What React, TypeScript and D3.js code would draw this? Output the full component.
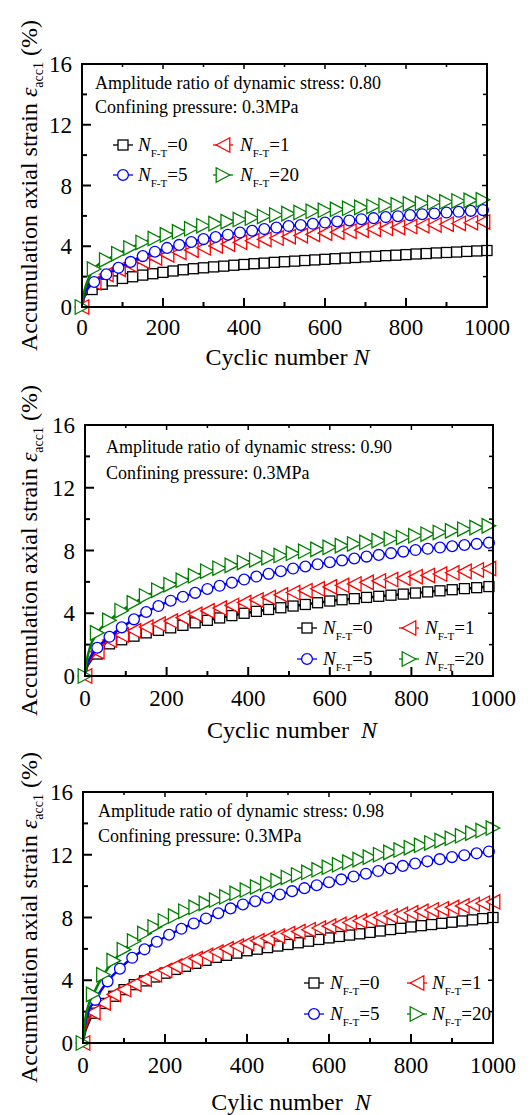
import React from 'react';
import * as d3 from 'd3';

const FONT = '"Liberation Serif", "Times New Roman", Times, serif';

// Cycle numbers at which the strain was sampled
const cyclesEvery25 = [25, 50, 75, 100, 125, 150, 175, 200, 225, 250, 275, 300, 325, 350, 375, 400, 425, 450, 475, 500, 525, 550, 575, 600, 625, 650, 675, 700, 725, 750, 775, 800, 825, 850, 875, 900, 925, 950, 975, 1000];
const cyclesEvery30 = [30, 60, 90, 120, 150, 180, 210, 240, 270, 300, 330, 360, 390, 420, 450, 480, 510, 540, 570, 600, 630, 660, 690, 720, 750, 780, 810, 840, 870, 900, 930, 960, 990];
// first few cycles (line only)
const leadCycles = [0, 4, 12];

const xTickMajor = [0, 200, 400, 600, 800, 1000];
const xTickMinor = [100, 300, 500, 700, 900];
const yTickMajor = [0, 4, 8, 12, 16];
const yTickMinor = [2, 6, 10, 14];

const freezeThawCounts = ['0', '1', '5', '20'];
const seriesColors = ['#000000', '#ff0000', '#0000ff', '#008000'];
const seriesShapes = ['square', 'left', 'circle', 'right'];
// series whose symbol also sits at the origin
const originSymbol = [false, true, false, true];

// Amplitude ratio 0.80
const a80Ft0Lead = [0, 0.55, 0.9];
const a80Ft0 = [1.15, 1.50, 1.72, 1.88, 1.99, 2.10, 2.19, 2.28, 2.37, 2.45, 2.52, 2.58, 2.64, 2.69, 2.75, 2.80, 2.85, 2.89, 2.94, 2.98, 3.02, 3.06, 3.10, 3.14, 3.18, 3.22, 3.26, 3.30, 3.34, 3.38, 3.41, 3.45, 3.49, 3.52, 3.56, 3.59, 3.62, 3.66, 3.69, 3.72];
const a80Ft1Lead = [0, 0.6, 1.1];
const a80Ft1 = [1.60, 2.15, 2.49, 2.76, 3.00, 3.23, 3.43, 3.59, 3.74, 3.90, 4.02, 4.14, 4.26, 4.36, 4.45, 4.54, 4.63, 4.70, 4.78, 4.86, 4.93, 4.99, 5.06, 5.12, 5.18, 5.24, 5.30, 5.35, 5.40, 5.45, 5.50, 5.55, 5.60];
const a80Ft5Lead = [0, 0.65, 1.15];
const a80Ft5 = [1.65, 2.15, 2.58, 2.97, 3.35, 3.64, 3.89, 4.09, 4.28, 4.47, 4.61, 4.76, 4.90, 5.02, 5.13, 5.23, 5.33, 5.40, 5.48, 5.56, 5.63, 5.70, 5.78, 5.85, 5.92, 5.98, 6.05, 6.11, 6.16, 6.22, 6.27, 6.33, 6.38];
const a80Ft20Lead = [0, 0.8, 1.6];
const a80Ft20 = [2.50, 3.10, 3.51, 3.89, 4.25, 4.51, 4.75, 4.95, 5.15, 5.35, 5.49, 5.62, 5.76, 5.86, 5.96, 6.06, 6.15, 6.22, 6.30, 6.37, 6.43, 6.50, 6.56, 6.62, 6.68, 6.73, 6.79, 6.83, 6.88, 6.93, 6.98, 7.02, 7.06];

// Amplitude ratio 0.90
const a90Ft0Lead = [0, 0.5, 0.9];
const a90Ft0 = [1.40, 2.05, 2.31, 2.54, 2.75, 2.91, 3.07, 3.23, 3.39, 3.55, 3.70, 3.85, 4.00, 4.12, 4.24, 4.35, 4.46, 4.56, 4.67, 4.78, 4.86, 4.93, 5.01, 5.08, 5.15, 5.22, 5.29, 5.36, 5.43, 5.50, 5.57, 5.63, 5.70];
const a90Ft1Lead = [0, 0.55, 1.0];
const a90Ft1 = [1.55, 2.29, 2.61, 2.88, 3.12, 3.31, 3.50, 3.72, 3.93, 4.15, 4.33, 4.50, 4.68, 4.85, 5.01, 5.17, 5.32, 5.44, 5.56, 5.68, 5.78, 5.87, 5.97, 6.06, 6.15, 6.24, 6.33, 6.41, 6.50, 6.58, 6.67, 6.76, 6.85];
const a90Ft5Lead = [0, 0.6, 1.15];
const a90Ft5 = [1.80, 2.50, 3.10, 3.61, 4.08, 4.46, 4.80, 5.05, 5.30, 5.55, 5.75, 5.95, 6.15, 6.34, 6.51, 6.68, 6.85, 6.98, 7.12, 7.25, 7.37, 7.49, 7.61, 7.72, 7.83, 7.93, 8.03, 8.11, 8.19, 8.27, 8.35, 8.42, 8.50];
const a90Ft20Lead = [0, 0.9, 1.8];
const a90Ft20 = [2.75, 3.55, 4.16, 4.66, 5.10, 5.47, 5.82, 6.10, 6.39, 6.68, 6.87, 7.05, 7.24, 7.40, 7.54, 7.68, 7.82, 7.95, 8.07, 8.20, 8.31, 8.42, 8.52, 8.63, 8.73, 8.83, 8.94, 9.04, 9.15, 9.25, 9.36, 9.46, 9.57];

// Amplitude ratio 0.98
const a98Ft0Lead = [0, 0.6, 1.2];
const a98Ft0 = [1.90, 2.52, 2.98, 3.40, 3.72, 3.96, 4.21, 4.45, 4.69, 4.89, 5.08, 5.27, 5.46, 5.59, 5.73, 5.88, 5.98, 6.08, 6.18, 6.28, 6.39, 6.49, 6.60, 6.70, 6.79, 6.88, 6.96, 7.05, 7.14, 7.23, 7.31, 7.40, 7.48, 7.55, 7.63, 7.70, 7.78, 7.85, 7.93, 8.00];
const a98Ft1Lead = [0, 0.7, 1.4];
const a98Ft1 = [1.95, 2.55, 3.10, 3.41, 3.75, 4.07, 4.35, 4.62, 4.90, 5.18, 5.38, 5.59, 5.80, 6.00, 6.18, 6.35, 6.51, 6.67, 6.82, 6.98, 7.10, 7.22, 7.33, 7.45, 7.56, 7.68, 7.79, 7.90, 8.00, 8.10, 8.20, 8.30, 8.39, 8.48, 8.56, 8.65, 8.74, 8.83, 8.91, 9.00];
const a98Ft5Lead = [0, 1.0, 1.9];
const a98Ft5 = [2.75, 3.93, 4.74, 5.43, 5.97, 6.45, 6.90, 7.28, 7.62, 7.94, 8.27, 8.58, 8.83, 9.04, 9.26, 9.47, 9.68, 9.87, 10.06, 10.25, 10.43, 10.61, 10.79, 10.96, 11.13, 11.29, 11.44, 11.58, 11.72, 11.85, 11.97, 12.09, 12.21];
const a98Ft20Lead = [0, 1.2, 2.3];
const a98Ft20 = [3.10, 4.35, 5.25, 5.95, 6.50, 6.98, 7.40, 7.78, 8.09, 8.40, 8.65, 8.90, 9.11, 9.32, 9.54, 9.75, 9.95, 10.15, 10.35, 10.55, 10.71, 10.88, 11.04, 11.20, 11.36, 11.53, 11.69, 11.85, 12.00, 12.15, 12.30, 12.45, 12.60, 12.75, 12.90, 13.05, 13.21, 13.38, 13.54, 13.70];

type Series = { cycles: number[]; values: number[]; lead: number[] };

const panels = [
  {
    frame: { l: 82, r: 487, t: 64, b: 307 },
    ratio: '0.80',
    annot: { x: 95, y1: 89, y2: 113 },
    legend: { rows: [151, 181], cols: [123, 223], textGap: [15, 17] },
    xTitle: 'Cyclic number ',
    xTitleY: 365,
    xLabelGap: 28,
    yLabelGap: 10,
    series: [
      { cycles: cyclesEvery25, values: a80Ft0, lead: a80Ft0Lead },
      { cycles: cyclesEvery30, values: a80Ft1, lead: a80Ft1Lead },
      { cycles: cyclesEvery30, values: a80Ft5, lead: a80Ft5Lead },
      { cycles: cyclesEvery30, values: a80Ft20, lead: a80Ft20Lead },
    ] as Series[],
  },
  {
    frame: { l: 85, r: 493, t: 425, b: 676 },
    ratio: '0.90',
    annot: { x: 106, y1: 453, y2: 479 },
    legend: { rows: [634, 665], cols: [307, 409], textGap: [16, 16] },
    xTitle: 'Cyclic number\u00a0 ',
    xTitleY: 738,
    xLabelGap: 30,
    yLabelGap: 10,
    series: [
      { cycles: cyclesEvery30, values: a90Ft0, lead: a90Ft0Lead },
      { cycles: cyclesEvery30, values: a90Ft1, lead: a90Ft1Lead },
      { cycles: cyclesEvery30, values: a90Ft5, lead: a90Ft5Lead },
      { cycles: cyclesEvery30, values: a90Ft20, lead: a90Ft20Lead },
    ] as Series[],
  },
  {
    frame: { l: 83, r: 493, t: 792, b: 1043 },
    ratio: '0.98',
    annot: { x: 98, y1: 817, y2: 842 },
    legend: { rows: [989, 1020], cols: [314, 417], textGap: [16, 15] },
    xTitle: 'Cylic number\u00a0 ',
    xTitleY: 1110,
    xLabelGap: 30,
    yLabelGap: 10,
    series: [
      { cycles: cyclesEvery25, values: a98Ft0, lead: a98Ft0Lead },
      { cycles: cyclesEvery25, values: a98Ft1, lead: a98Ft1Lead },
      { cycles: cyclesEvery30, values: a98Ft5, lead: a98Ft5Lead },
      { cycles: cyclesEvery25, values: a98Ft20, lead: a98Ft20Lead },
    ] as Series[],
  },
];

function Marker({ shape, x, y, color }: { shape: string; x: number; y: number; color: string }) {
  const common = { fill: '#ffffff', stroke: color, strokeWidth: 1.3 };
  if (shape === 'square') return <rect x={x - 5} y={y - 5} width={10} height={10} {...common} />;
  if (shape === 'circle') return <circle cx={x} cy={y} r={5.4} {...common} />;
  if (shape === 'left')
    return <path d={`M${x - 6.8},${y}L${x + 6.8},${y - 7.2}L${x + 6.8},${y + 7.2}Z`} {...common} />;
  return <path d={`M${x + 6.8},${y}L${x - 6.8},${y - 7.2}L${x - 6.8},${y + 7.2}Z`} {...common} />;
}

function Panel({ p }: { p: (typeof panels)[number] }) {
  const { frame } = p;
  const x = d3.scaleLinear().domain([0, 1000]).range([frame.l, frame.r]);
  const y = d3.scaleLinear().domain([0, 16]).range([frame.b, frame.t]);
  const line = d3
    .line<[number, number]>()
    .x((d) => x(d[0]))
    .y((d) => y(d[1]))
    .curve(d3.curveMonotoneX);

  const cy = (frame.t + frame.b) / 2;
  const cx = (frame.l + frame.r) / 2;

  return (
    <g>
      {/* ticks */}
      {xTickMajor.map((t) => (
        <g key={'xM' + t}>
          <line x1={x(t)} x2={x(t)} y1={frame.b} y2={frame.b - 9} stroke="#000" strokeWidth={2} />
          <line x1={x(t)} x2={x(t)} y1={frame.t} y2={frame.t + 5} stroke="#000" strokeWidth={1.5} />
        </g>
      ))}
      {xTickMinor.map((t) => (
        <g key={'xm' + t}>
          <line x1={x(t)} x2={x(t)} y1={frame.b} y2={frame.b - 5} stroke="#000" strokeWidth={2} />
          <line x1={x(t)} x2={x(t)} y1={frame.t} y2={frame.t + 3} stroke="#000" strokeWidth={1.5} />
        </g>
      ))}
      {yTickMajor.map((t) => (
        <g key={'yM' + t}>
          <line x1={frame.l} x2={frame.l + 9} y1={y(t)} y2={y(t)} stroke="#000" strokeWidth={2} />
          <line x1={frame.r} x2={frame.r - 5} y1={y(t)} y2={y(t)} stroke="#000" strokeWidth={1.5} />
        </g>
      ))}
      {yTickMinor.map((t) => (
        <g key={'ym' + t}>
          <line x1={frame.l} x2={frame.l + 5} y1={y(t)} y2={y(t)} stroke="#000" strokeWidth={2} />
          <line x1={frame.r} x2={frame.r - 4} y1={y(t)} y2={y(t)} stroke="#000" strokeWidth={1.5} />
        </g>
      ))}

      {/* data */}
      {p.series.map((s, i) => {
        const pts: [number, number][] = [
          ...leadCycles.map((n, k) => [n, s.lead[k]] as [number, number]),
          ...s.cycles.map((n, k) => [n, s.values[k]] as [number, number]),
        ];
        return (
          <g key={'s' + i}>
            <path d={line(pts) || ''} fill="none" stroke={seriesColors[i]} strokeWidth={2.5} />
            {originSymbol[i] && (
              <Marker shape={seriesShapes[i]} x={x(leadCycles[0])} y={y(s.lead[0])} color={seriesColors[i]} />
            )}
            {s.cycles.map((n, k) => (
              <Marker key={k} shape={seriesShapes[i]} x={x(n)} y={y(s.values[k])} color={seriesColors[i]} />
            ))}
          </g>
        );
      })}

      {/* frame */}
      <rect
        x={frame.l}
        y={frame.t}
        width={frame.r - frame.l}
        height={frame.b - frame.t}
        fill="none"
        stroke="#000"
        strokeWidth={2}
      />

      {/* tick labels */}
      {xTickMajor.map((t) => (
        <text key={'xl' + t} x={x(t)} y={frame.b + p.xLabelGap} textAnchor="middle" fontFamily={FONT} fontSize={23}>
          {t}
        </text>
      ))}
      {yTickMajor.map((t) => (
        <text
          key={'yl' + t}
          x={frame.l - p.yLabelGap}
          y={y(t) + 8}
          textAnchor="end"
          fontFamily={FONT}
          fontSize={23}
        >
          {t}
        </text>
      ))}

      {/* axis titles */}
      <text x={cx + 3} y={p.xTitleY} textAnchor="middle" fontFamily={FONT} fontSize={24}>
        {p.xTitle}
        <tspan fontStyle="italic">N</tspan>
      </text>
      <text
        transform={`translate(37,${cy}) rotate(-90)`}
        textAnchor="middle"
        fontFamily={FONT}
        fontSize={24}
      >
        Accumulation axial strain <tspan fontStyle="italic">ε</tspan>
        <tspan fontSize={14} dy={6}>acc1</tspan>
        <tspan dy={-6}>{'\u00a0(%)'}</tspan>
      </text>

      {/* test conditions */}
      <text x={p.annot.x} y={p.annot.y1} fontFamily={FONT} fontSize={18}>
        {`Amplitude ratio of dynamic stress: ${p.ratio}`}
      </text>
      <text x={p.annot.x} y={p.annot.y2} fontFamily={FONT} fontSize={18}>
        Confining pressure: 0.3MPa
      </text>

      {/* legend */}
      {freezeThawCounts.map((name, i) => {
        const col = i % 2;
        const row = Math.floor(i / 2);
        const mx = p.legend.cols[col];
        const my = p.legend.rows[row] - 6;
        return (
          <g key={'lg' + i}>
            <line x1={mx - 10} x2={mx + 10} y1={my} y2={my} stroke={seriesColors[i]} strokeWidth={1.3} />
            <Marker shape={seriesShapes[i]} x={mx} y={my} color={seriesColors[i]} />
            <text x={mx + p.legend.textGap[col]} y={p.legend.rows[row]} fontFamily={FONT} fontSize={19}>
              <tspan fontStyle="italic">N</tspan>
              <tspan fontSize={11} dy={6}>F-T</tspan>
              <tspan dy={-6}>={name}</tspan>
            </text>
          </g>
        );
      })}
    </g>
  );
}

export default function App() {
  return (
    <svg
      width={532}
      height={1115}
      viewBox="0 0 532 1115"
      style={{ position: 'absolute', left: 0, top: 0, background: '#fff' }}
    >
      <rect x={0} y={0} width={532} height={1115} fill="#fff" />
      {panels.map((p, i) => (
        <Panel key={i} p={p} />
      ))}
    </svg>
  );
}
